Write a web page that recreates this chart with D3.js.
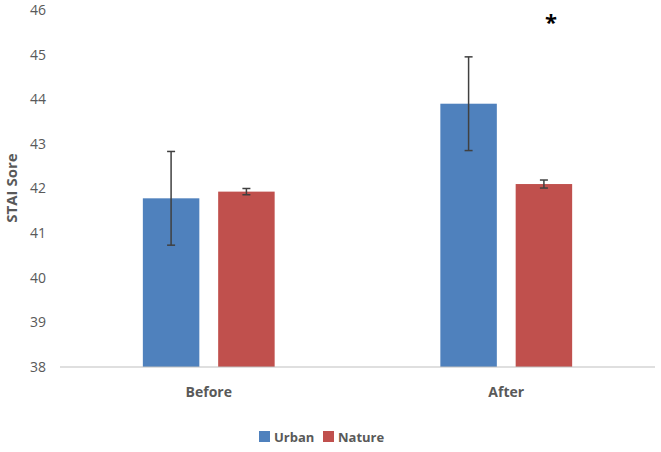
<!DOCTYPE html>
<html><head><meta charset="utf-8">
<script src="https://cdn.jsdelivr.net/npm/d3@7"></script>
<style>body{margin:0;background:#fff;font-family:"Open Sans",Arial,sans-serif}</style>
</head><body><div id="chart"></div>
<script>
const categories = ["Before", "After"];
const seriesNames = ["Urban", "Nature"];
const urbanValues = [41.78, 43.9];
const urbanErrors = [1.05, 1.05];
const natureValues = [41.93, 42.1];
const natureErrors = [0.07, 0.09];
const yTicks = [38, 39, 40, 41, 42, 43, 44, 45, 46];
const colors = ["#4f81bd", "#c0504d"];

const width = 661, height = 452;
const svg = d3.select("#chart").append("svg").attr("width", width).attr("height", height);

const x = d3.scaleBand().domain(categories).range([60, 655]);
const xInner = d3.scaleBand().domain(seriesNames).range([0, x.bandwidth()]).paddingInner(0.25).paddingOuter(1.1);
const y = d3.scaleLinear().domain([38, 46]).range([367, 10]);

const yAxis = svg.append("g").attr("transform", "translate(60,0)")
  .call(d3.axisLeft(y).tickValues(yTicks).tickSize(0).tickPadding(14));
yAxis.select(".domain").remove();
yAxis.selectAll("text").style("font-size", "14px").style("fill", "#595959").style("font-family", "Open Sans");

const series = [
  { name: "Urban", values: urbanValues, errors: urbanErrors },
  { name: "Nature", values: natureValues, errors: natureErrors }
];
const rows = [];
series.forEach((s, si) => categories.forEach((c, ci) =>
  rows.push({ cat: c, name: s.name, v: s.values[ci], e: s.errors[ci], color: colors[si] })));

svg.selectAll("rect.bar").data(rows).enter().append("rect")
  .attr("x", d => x(d.cat) + xInner(d.name))
  .attr("y", d => y(d.v))
  .attr("width", xInner.bandwidth())
  .attr("height", d => y(38) - y(d.v))
  .attr("fill", d => d.color);

const eb = svg.selectAll("g.err").data(rows).enter().append("g")
  .attr("stroke", "#404040").attr("stroke-width", 1.5);
const cx = d => x(d.cat) + xInner(d.name) + xInner.bandwidth() / 2;
eb.append("line").attr("x1", cx).attr("x2", cx).attr("y1", d => y(d.v - d.e)).attr("y2", d => y(d.v + d.e));
[-1, 1].forEach(k => eb.append("line")
  .attr("x1", d => cx(d) - 4).attr("x2", d => cx(d) + 4)
  .attr("y1", d => y(d.v + k * d.e)).attr("y2", d => y(d.v + k * d.e)));

svg.append("line").attr("x1", 60).attr("x2", 655).attr("y1", y(38)).attr("y2", y(38))
  .attr("stroke", "#bfbfbf");

const xAxis = svg.append("g").attr("transform", `translate(0,${y(38)})`)
  .call(d3.axisBottom(x).tickSize(0).tickPadding(20));
xAxis.select(".domain").remove();
xAxis.selectAll("text").style("font-size", "14px").style("fill", "#595959")
  .style("font-weight", "bold").style("font-family", "Open Sans");

svg.append("text").attr("transform", "translate(17,188) rotate(-90)").attr("text-anchor", "middle")
  .style("font-size", "15px").style("font-weight", "bold").style("fill", "#595959").text("STAI Sore");

svg.append("text").attr("x", cx(rows[3]) + 7).attr("y", 30).attr("text-anchor", "middle")
  .style("font-size", "22px").style("font-weight", "bold").text("*");

const legend = svg.append("g").attr("transform", "translate(259,437)");
seriesNames.forEach((n, i) => {
  const g = legend.append("g").attr("transform", `translate(${i * 64},0)`);
  g.append("rect").attr("x", 0).attr("y", -6).attr("width", 11).attr("height", 11).attr("fill", colors[i]);
  g.append("text").attr("x", 15).attr("y", 5).style("font-size", "13px").style("font-weight", "bold")
    .style("fill", "#595959").text(n);
});
</script></body></html>
